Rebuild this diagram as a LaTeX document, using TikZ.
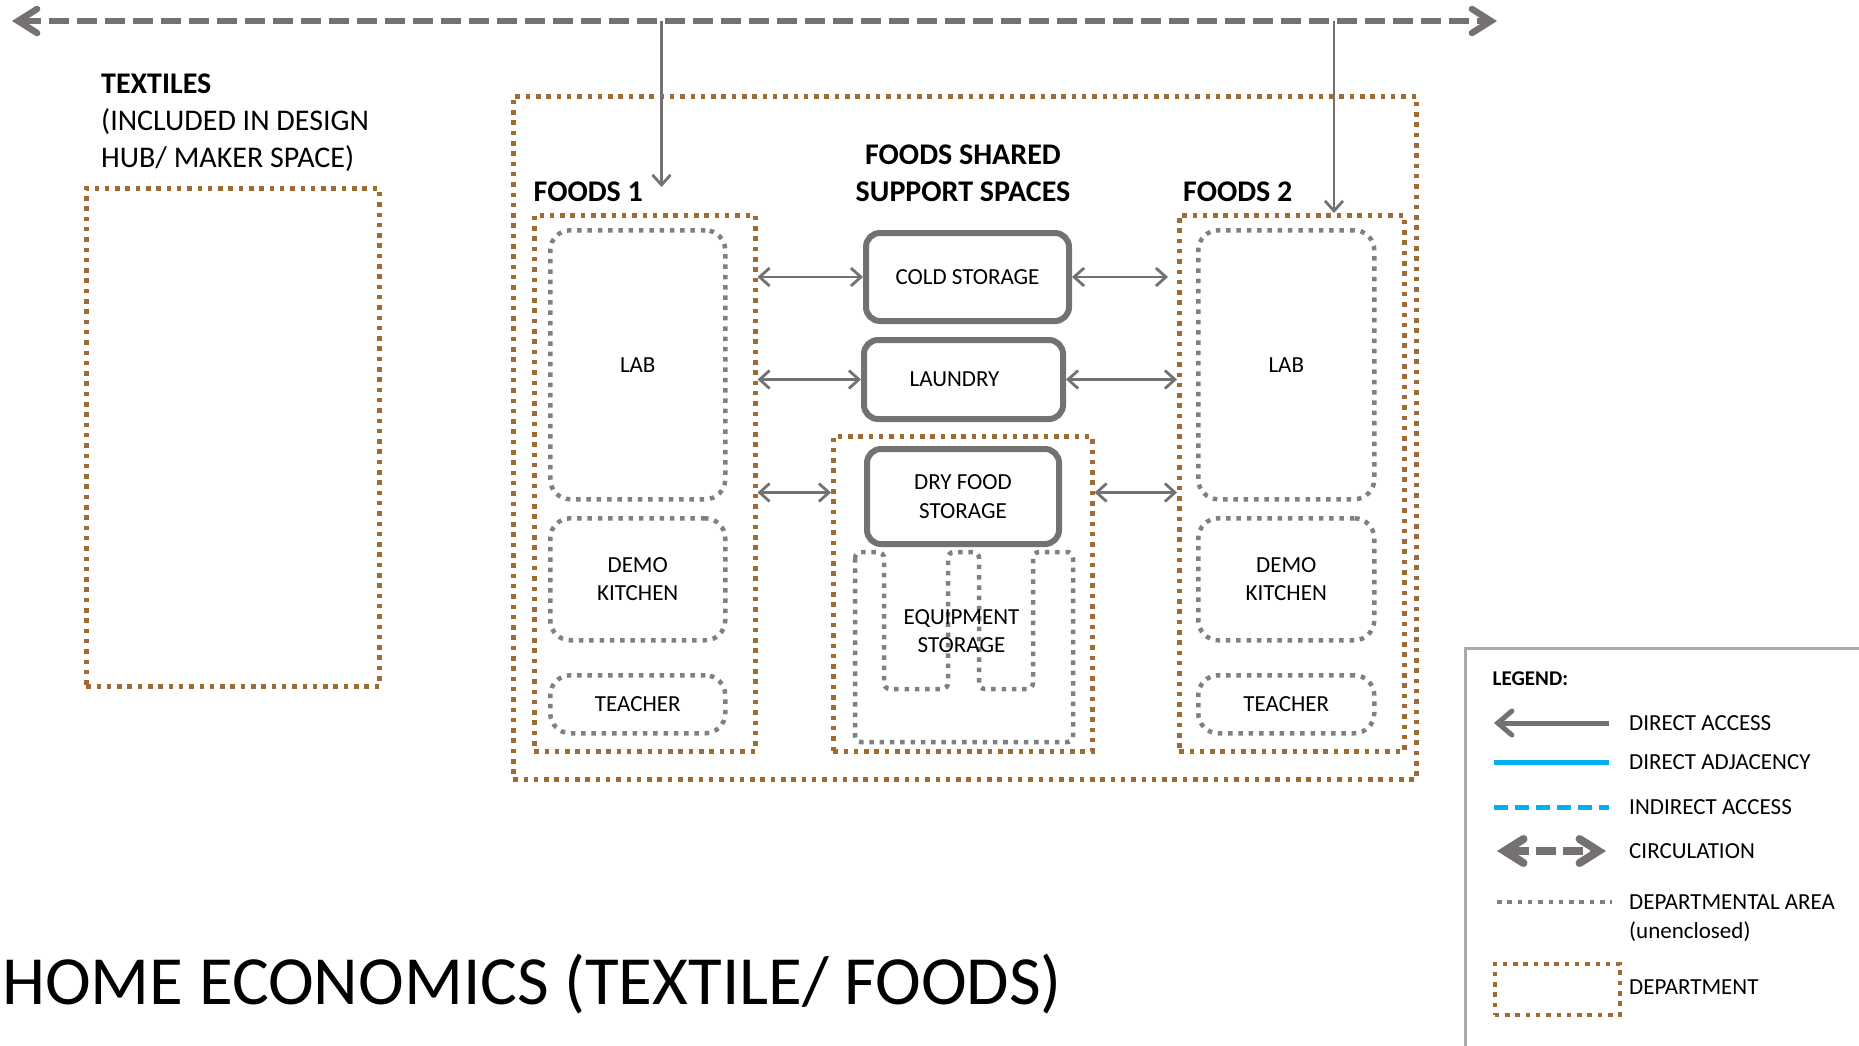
\documentclass[tikz,border=0pt]{standalone}
\usepackage{fontspec}
\setmainfont{Carlito}
\usetikzlibrary{arrows.meta,positioning}
\definecolor{arrowgray}{HTML}{767171}
\definecolor{areagray}{HTML}{808080}
\definecolor{deptbrown}{HTML}{9E6B33}
\definecolor{adjblue}{HTML}{00B0F0}
\definecolor{framegray}{HTML}{AEAAAA}

\begin{document}
\begin{tikzpicture}[x=1pt, y=-1pt, >={Straight Barb[length=10pt, width=18pt]},
    dept/.style={draw=deptbrown, line width=4.5pt, dash pattern=on 4.5pt off 5.8pt, anchor=north west, inner sep=0pt},
    area/.style={draw=areagray, line width=4.5pt, dash pattern=on 4.5pt off 5.8pt, rounded corners=20pt},
    store/.style={draw=arrowgray, line width=6pt, rounded corners=14pt},
    room/.style={anchor=north west, inner sep=0pt, align=center, font=\fontsize{23}{28.5}\selectfont},
    heading/.style={inner sep=0pt, align=center, font=\bfseries\fontsize{30}{37}\selectfont},
    access/.style={draw=arrowgray, line width=2.8pt},
    circ/.style={draw=arrowgray, line width=6.5pt, dash pattern=on 20pt off 8pt,
        {Straight Barb[length=19pt, width=24pt, line cap=round]}-{Straight Barb[length=19pt, width=24pt, line cap=round]}},
    legtext/.style={anchor=west, inner sep=0pt, align=left, font=\fontsize{23}{28.5}\selectfont}]

    \path[use as bounding box, clip] (0,0) rectangle (1859,1045);

    \coordinate (circW) at (12,21);
    \coordinate (circE) at (1497,21);
    \coordinate (drop1) at (661.5,21);
    \coordinate (drop2) at (1334,21);
    \coordinate (land1) at (661.5,187);

    \node[dept, minimum width=293pt, minimum height=498pt] (textiles) at (84,186) {};
    \node[dept, minimum width=903pt, minimum height=683pt] (foods) at (511,94) {};
    \node[dept, minimum width=221pt, minimum height=536pt] (f1) at (532,213) {};
    \node[dept, minimum width=225pt, minimum height=536pt] (f2) at (1177,213) {};
    \node[dept, minimum width=259pt, minimum height=315pt] (shared) at (831,434) {};

    \node[area, room, minimum width=175pt, minimum height=269pt] (lab1) at (548,228) {LAB};
    \node[area, room, minimum width=175pt, minimum height=122pt] (demo1) at (548,516) {DEMO\\KITCHEN};
    \node[area, room, minimum width=175pt, minimum height=58pt] (teacher1) at (548,673) {TEACHER};
    \node[area, room, minimum width=176pt, minimum height=269pt] (lab2) at (1196,228) {LAB};
    \node[area, room, minimum width=176pt, minimum height=122pt] (demo2) at (1196,516) {DEMO\\KITCHEN};
    \node[area, room, minimum width=176pt, minimum height=58pt] (teacher2) at (1196,673) {TEACHER};

    \node[store, room, minimum width=203pt, minimum height=88pt] (cold) at (863,230) {COLD STORAGE};
    \node[store, room, minimum width=199pt, minimum height=79pt] (laundry) at (861,337) {\hspace*{-18pt}LAUNDRY};
    \node[store, room, minimum width=192pt, minimum height=95pt] (dry) at (864,446) {DRY FOOD\\STORAGE};

    \draw[area, rounded corners=6pt] (855,552) -- (855,742) -- (1073,742) -- (1073,552) -- (1033,552)
        -- (1033,689) -- (979,689) -- (979,552) -- (948,552) -- (948,689) -- (884,689) -- (884,552) -- cycle;
    \node[room, anchor=center] (equip) at (961.5,631) {EQUIPMENT\\STORAGE};

    \node[heading, anchor=west, align=left] (textlabel) at (101,122.5) {TEXTILES\\\mdseries(INCLUDED IN DESIGN\\\mdseries HUB/ MAKER SPACE)};
    \node[heading, anchor=base west] (f1label) at (533.5,201) {FOODS 1};
    \node[heading, anchor=base west] (f2label) at (1183,201) {FOODS 2};
    \node[heading] (sharedlabel) at (963,173.5) {FOODS SHARED\\SUPPORT SPACES};

    \draw[circ] (circW) -- (circE);
    \path[access] (drop1) edge[->] (land1)
        (drop2) edge[->] (drop2 |- f2.north)
        (f1.east |- cold.west) edge[<->] (cold.west)
        (cold.east) edge[<->] ([xshift=-9pt]f2.west |- cold.east)
        (f1.east |- laundry.west) edge[<->] (laundry.west)
        (laundry.east) edge[<->] (f2.west |- laundry.east)
        ([yshift=4pt]f1.east |- dry.west) edge[<->] ([yshift=4pt]shared.west |- dry.west)
        ([yshift=4pt]shared.east |- dry.east) edge[<->] ([yshift=4pt]f2.west |- dry.east);

    \node[inner sep=0pt, anchor=west, font=\fontsize{69}{82}\selectfont] (title) at (2,984) {HOME ECONOMICS (TEXTILE/ FOODS)};

    \draw[framegray, line width=3pt] (1875,648.5) -- (1465.5,648.5) -- (1465.5,1060);
    \node[legtext, font=\bfseries\fontsize{21}{26}\selectfont] (legend) at (1492.5,679) {LEGEND:};
    \coordinate (k1a) at (1494,723);   \coordinate (k1b) at (1609,723);
    \coordinate (k2a) at (1494,762);   \coordinate (k2b) at (1609,762);
    \coordinate (k3a) at (1494,807);   \coordinate (k3b) at (1609,807);
    \coordinate (k4a) at (1497,851);   \coordinate (k4b) at (1606,851);
    \coordinate (k5a) at (1497,902);   \coordinate (k5b) at (1612,902);
    \draw[arrowgray, line width=5pt, {Straight Barb[length=14pt, width=24pt, line cap=round]}-] (k1a) -- (k1b);
    \draw[adjblue, line width=5pt] (k2a) -- (k2b);
    \draw[adjblue, line width=5pt, dash pattern=on 14pt off 7pt] (k3a) -- (k3b);
    \draw[circ, line width=8pt, dash pattern=on 20pt off 7pt] (k4a) -- (k4b);
    \draw[areagray, line width=4.5pt, dash pattern=on 4.5pt off 5.8pt] (k5a) -- (k5b);
    \node[dept, minimum width=125pt, minimum height=51pt] (deptkey) at (1492.5,961.5) {};
    \node[legtext] (l1) at (1629,723) {DIRECT ACCESS};
    \node[legtext] (l2) at (1629,762) {DIRECT ADJACENCY};
    \node[legtext] (l3) at (1629,807) {INDIRECT ACCESS};
    \node[legtext] (l4) at (1629,851) {CIRCULATION};
    \node[legtext] (l5) at (1629,918) {DEPARTMENTAL AREA\\(unenclosed)};
    \node[legtext] (l6) at (1629,987.5) {DEPARTMENT};
\end{tikzpicture}
\end{document}
